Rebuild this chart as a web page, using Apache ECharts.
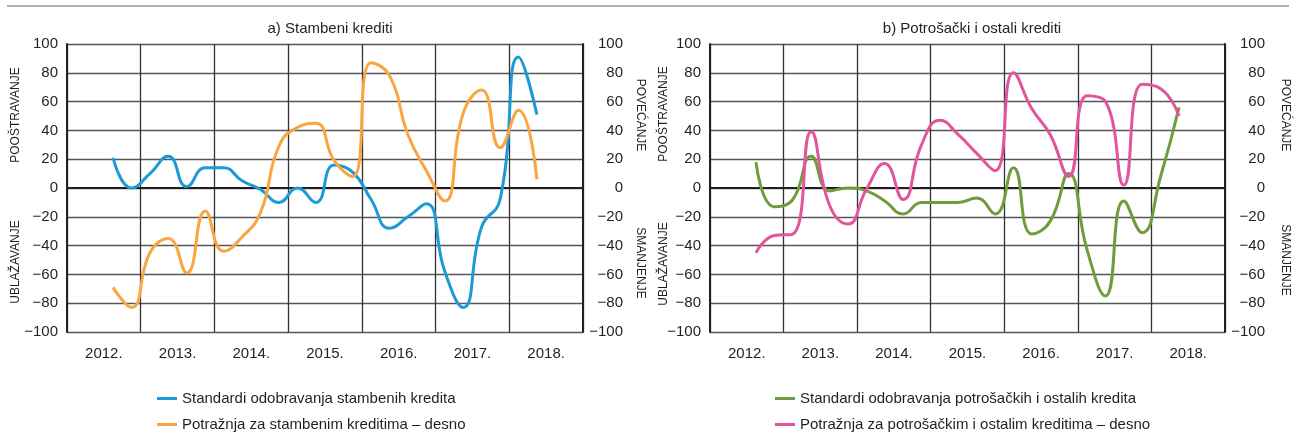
<!DOCTYPE html>
<html>
<head>
<meta charset="utf-8">
<title>Standardi odobravanja i potražnja za kreditima</title>
<script src="https://cdn.jsdelivr.net/npm/echarts@6/dist/echarts.min.js"></script>
<style>
  html, body { margin: 0; padding: 0; background: #fff; }
  #chart { width: 1302px; height: 437px; }
</style>
</head>
<body>
<div id="chart"></div>
<script>
// godine na osi x, podaci su kvartalni (prvi je 3. kvartal 2012.)
var years = ['2012.', '2013.', '2014.', '2015.', '2016.', '2017.', '2018.'];
var firstQuarter = 2;

// a) Stambeni krediti
var stambeniStandardi = [21, 0, 10, 22, 1, 14, 14, 5, -1, -10, 0, -10, 16, 11, -8, -28, -20, -11, -58, -83, -27, -8, 91, 51];
var stambeniPotraznja = [-69, -83, -45, -35, -59, -16, -44, -34, -17, 29, 42, 45, 19, 8, 87, 78, 37, 12, -9, 52, 68, 28, 54, 6];

// b) Potrošački i ostali krediti
var potrosackiStandardi = [18, -13, -8, 22, -2, 0, -2, -9, -18, -10, -10, -10, -7, -18, 14, -32, -23, 10, -43, -75, -9, -31, 8, 56];
var potrosackiPotraznja = [-45, -33, -32, 39, -12, -25, -1, 17, -8, 30, 47, 37, 24, 12, 80, 55, 37, 8, 64, 60, 2, 72, 69, 50];

var legendA = ['Standardi odobravanja stambenih kredita', 'Potražnja za stambenim kreditima – desno'];
var legendB = ['Standardi odobravanja potrošačkih i ostalih kredita', 'Potražnja za potrošačkim i ostalim kreditima – desno'];

var FONT = "'Liberation Sans', Arial, sans-serif";
var TXT = '#231f20';
var FS = 15;

function toPoints(arr) {
  return arr.map(function (v, i) { return [firstQuarter + i + 0.5, v]; });
}

function minusSign(v) {
  return String(v).replace('-', '\u2212');
}

function yAxisPair(gridIndex) {
  var base = {
    gridIndex: gridIndex,
    type: 'value',
    min: -100,
    max: 100,
    interval: 20,
    axisTick: { show: false },
    axisLine: { show: true, lineStyle: { color: '#231f20', width: 2 } }
  };
  var left = Object.assign({}, base, {
    position: 'left',
    axisLabel: { margin: 9, color: TXT, fontSize: FS, fontFamily: FONT, formatter: minusSign },
    splitLine: { show: true, lineStyle: { color: '#555', width: 1.3 } }
  });
  var right = Object.assign({}, base, {
    position: 'right',
    axisLabel: { margin: 40, align: 'right', color: TXT, fontSize: FS, fontFamily: FONT, formatter: minusSign },
    splitLine: { show: false }
  });
  return [left, right];
}

function xAxisPair(gridIndex) {
  return [
    {
      gridIndex: gridIndex,
      type: 'category',
      data: years,
      boundaryGap: true,
      axisTick: { show: false },
      axisLine: { show: true, lineStyle: { color: '#231f20', width: 2 } },
      axisLabel: { margin: 14, color: TXT, fontSize: FS, fontFamily: FONT },
      splitLine: { show: true, lineStyle: { color: '#333', width: 1.3 } }
    },
    {
      gridIndex: gridIndex,
      type: 'value',
      min: 0,
      max: years.length * 4,
      show: false
    }
  ];
}

function lineSeries(name, data, color, xIdx, yIdx, withZero) {
  var s = {
    name: name,
    type: 'line',
    xAxisIndex: xIdx,
    yAxisIndex: yIdx,
    data: toPoints(data),
    smooth: 0.5,
    showSymbol: false,
    lineStyle: { color: color, width: 3 },
    itemStyle: { color: color },
    z: 3
  };
  if (withZero) {
    s.markLine = {
      silent: true,
      symbol: 'none',
      label: { show: false },
      lineStyle: { color: '#231f20', width: 2, type: 'solid' },
      data: [{ yAxis: 0 }],
      z: 2
    };
  }
  return s;
}

// jedna stavka legende po retku
function legendItem(name, left, top) {
  return {
    left: left, top: top, itemWidth: 20, itemHeight: 3, icon: 'rect',
    textStyle: { fontSize: FS, color: TXT, fontFamily: FONT },
    data: [name]
  };
}

function sideText(text, x, y, rot) {
  return {
    type: 'text',
    x: x,
    y: y,
    rotation: rot,
    style: {
      text: text,
      fill: TXT,
      font: '12px ' + FONT,
      align: 'center',
      verticalAlign: 'middle'
    }
  };
}

var ya = yAxisPair(0), yb = yAxisPair(1);
var xa = xAxisPair(0), xb = xAxisPair(1);

var option = {
  animation: false,
  textStyle: { fontFamily: FONT },
  title: [
    { text: 'a) Stambeni krediti', left: 325, top: 16, textAlign: 'center',
      textStyle: { fontSize: FS, fontWeight: 'normal', color: TXT, fontFamily: FONT } },
    { text: 'b) Potrošački i ostali krediti', left: 967, top: 16, textAlign: 'center',
      textStyle: { fontSize: FS, fontWeight: 'normal', color: TXT, fontFamily: FONT } }
  ],
  grid: [
    { left: 67, right: 719, top: 44, bottom: 105 },
    { left: 710, right: 77, top: 44, bottom: 105 }
  ],
  xAxis: [xa[0], xa[1], xb[0], xb[1]],
  yAxis: [ya[0], ya[1], yb[0], yb[1]],
  legend: [
    legendItem(legendA[0], 152, 386),
    legendItem(legendA[1], 152, 412),
    legendItem(legendB[0], 770, 386),
    legendItem(legendB[1], 770, 412)
  ],
  graphic: [
    { type: 'line', shape: { x1: 7, y1: 6, x2: 1289, y2: 6 }, style: { stroke: '#999', lineWidth: 1.5 } },
    sideText('POOŠTRAVANJE', 16, 115, Math.PI / 2),
    sideText('UBLAŽAVANJE', 16, 262, Math.PI / 2),
    sideText('POVEĆANJE', 640, 115, -Math.PI / 2),
    sideText('SMANJENJE', 640, 263, -Math.PI / 2),
    sideText('POOŠTRAVANJE', 664, 114, Math.PI / 2),
    sideText('UBLAŽAVANJE', 664, 264, Math.PI / 2),
    sideText('POVEĆANJE', 1285, 115, -Math.PI / 2),
    sideText('SMANJENJE', 1285, 260, -Math.PI / 2)
  ],
  series: [
    lineSeries(legendA[0], stambeniStandardi, '#1b9ad6', 1, 0, true),
    lineSeries(legendA[1], stambeniPotraznja, '#f9a541', 1, 1, false),
    lineSeries(legendB[0], potrosackiStandardi, '#6f9c3d', 3, 2, true),
    lineSeries(legendB[1], potrosackiPotraznja, '#e2549b', 3, 3, false)
  ]
};

var myChart = echarts.init(document.getElementById('chart'));
myChart.setOption(option);
</script>
</body>
</html>
